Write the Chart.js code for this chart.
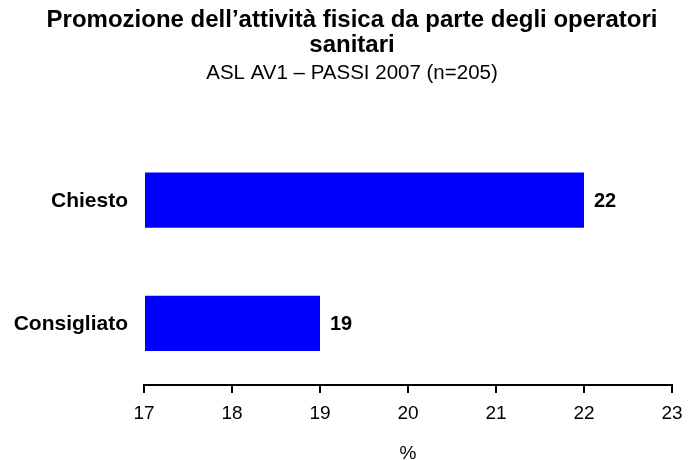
<!DOCTYPE html>
<html>
<head>
<meta charset="utf-8">
<script src="https://cdn.jsdelivr.net/npm/chart.js@4"></script>
<style>
  html, body { margin: 0; padding: 0; background: #fff; }
  #wrap { width: 696px; height: 460px; }
</style>
</head>
<body>
<div id="wrap"><canvas id="chart" width="696" height="460"></canvas></div>
<script>
const categories = ['Chiesto', 'Consigliato'];
const values = [22, 19];
const tickMin = 17;
const tickMax = 23;

const FONT = "'Liberation Sans', Arial, sans-serif";

// category names left of the bars and value labels at the bar ends
const barLabels = {
  id: 'barLabels',
  afterDraw(chart) {
    const { ctx, chartArea } = chart;
    const yScale = chart.scales.y;
    const meta = chart.getDatasetMeta(0);
    ctx.save();
    ctx.fillStyle = '#000';
    ctx.textBaseline = 'middle';

    ctx.font = `bold 21px ${FONT}`;
    ctx.textAlign = 'right';
    categories.forEach((name, idx) => {
      ctx.fillText(name, chartArea.left - 16, yScale.getPixelForValue(idx) + 1);
    });

    ctx.font = `bold 20px ${FONT}`;
    ctx.textAlign = 'left';
    meta.data.forEach((bar, idx) => {
      ctx.fillText(String(values[idx]), bar.x + 10, bar.y + 1);
    });
    ctx.restore();
  },
};

new Chart(document.getElementById('chart').getContext('2d'), {
  type: 'bar',
  data: {
    labels: categories,
    datasets: [{
      data: values,
      base: tickMin,
      backgroundColor: '#0000ff',
      borderWidth: 0,
      barPercentage: 0.45,
      categoryPercentage: 1,
    }],
  },
  options: {
    indexAxis: 'y',
    responsive: false,
    animation: false,
    layout: { padding: { top: 0, right: 24, bottom: 0, left: 32 } },
    plugins: {
      legend: { display: false },
      tooltip: { enabled: false },
      title: {
        display: true,
        text: ['Promozione dell\u2019attività fisica da parte degli operatori', 'sanitari'],
        color: '#000',
        font: { family: FONT, size: 24, weight: 'bold', lineHeight: 1.04 },
        padding: { top: 8, bottom: 3 },
      },
      subtitle: {
        display: true,
        text: 'ASL AV1 \u2013 PASSI 2007 (n=205)',
        color: '#000',
        font: { family: FONT, size: 20.5, lineHeight: 1.2 },
        padding: { top: 0, bottom: 53 },
      },
    },
    scales: {
      x: {
        min: tickMin,
        max: tickMax,
        ticks: { stepSize: 1, color: '#000', font: { family: FONT, size: 19 }, padding: 9 },
        grid: { drawOnChartArea: false, drawTicks: true, tickLength: 8, color: '#000', lineWidth: 2 },
        border: { display: true, color: '#000', width: 2 },
        title: { display: true, text: '%', color: '#000', font: { family: FONT, size: 19, lineHeight: 1 }, padding: { top: 4, bottom: -3 } },
        afterFit(scale) { scale.height = 75; },
      },
      y: {
        ticks: { display: false },
        grid: { display: false, drawTicks: false },
        border: { display: false },
        afterFit(scale) { scale.width = 112; },
      },
    },
  },
  plugins: [barLabels],
});
</script>
</body>
</html>
